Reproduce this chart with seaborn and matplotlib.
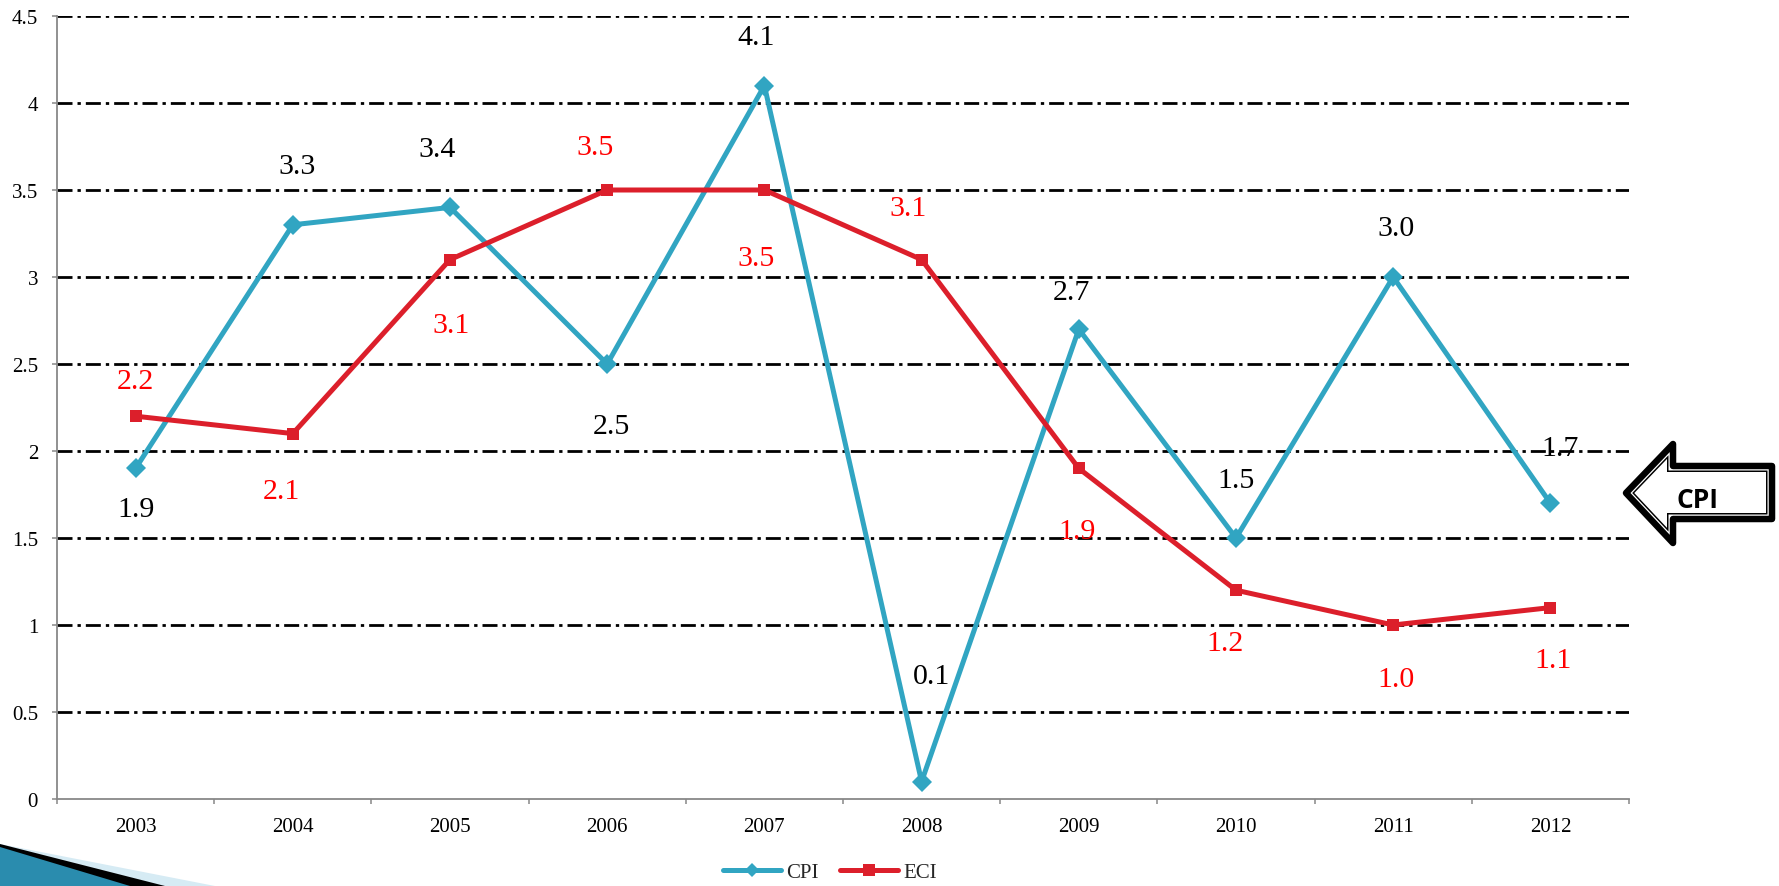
import numpy as np
import matplotlib
matplotlib.use("Agg")
import matplotlib.pyplot as plt
import seaborn as sns
from matplotlib.patches import Polygon
from matplotlib.lines import Line2D
from matplotlib.ticker import FixedLocator, NullFormatter, FixedFormatter

# data
years = ["2003", "2004", "2005", "2006", "2007", "2008", "2009", "2010", "2011", "2012"]
cpi = [1.9, 3.3, 3.4, 2.5, 4.1, 0.1, 2.7, 1.5, 3.0, 1.7]
eci = [2.2, 2.1, 3.1, 3.5, 3.5, 3.1, 1.9, 1.2, 1.0, 1.1]
y_ticks = [0, 0.5, 1, 1.5, 2, 2.5, 3, 3.5, 4, 4.5]
y_tick_labels = ["0", "0.5", "1", "1.5", "2", "2.5", "3", "3.5", "4", "4.5"]

# data label offsets (points, dx / dy) as placed in the original
cpi_offsets = [(0, -29), (3, 42), (-9, 42), (3, -45), (-6, 35), (7, 76), (-5, 27), (0, 42), (2, 35), (7, 40)]
eci_offsets = [(0, 25), (-8, -41), (1, -47), (-9, 31), (-6, -49), (-10, 37), (-1, -45), (-8, -38), (2, -39), (2, -38)]

cpi_color = "#31A5C2"
eci_color = "#DC1F2B"

W, H = 1779, 887
sns.set_theme(style="white")
plt.rcParams["font.family"] = ["Liberation Serif", "DejaVu Serif"]

fig = plt.figure(figsize=(W / 100, H / 100), dpi=100)
ax = fig.add_axes([57 / W, 1 - 800 / H, (1629 - 57) / W, (800 - 17) / H])

pos = np.arange(len(years))
sns.lineplot(x=pos, y=cpi, ax=ax, color=cpi_color, linewidth=3.6, marker="D",
             markersize=10, markeredgewidth=0, legend=False, zorder=3)
sns.lineplot(x=pos, y=eci, ax=ax, color=eci_color, linewidth=3.6, marker="s",
             markersize=8.5, markeredgewidth=0, legend=False, zorder=4)

for p, v, (dx, dy) in zip(pos, cpi, cpi_offsets):
    ax.annotate(f"{v:.1f}", (p, v), xytext=(dx, dy), textcoords="offset points",
                ha="center", va="center", fontsize=21.5, color="black", zorder=5)
for p, v, (dx, dy) in zip(pos, eci, eci_offsets):
    ax.annotate(f"{v:.1f}", (p, v), xytext=(dx, dy), textcoords="offset points",
                ha="center", va="center", fontsize=21.5, color="#FF0000", zorder=5)

# dash-dot gridlines
for t in y_ticks[1:]:
    ax.axhline(t, color="black", linewidth=2, linestyle=(0, (5.4, 1.8, 1.2, 1.8)), zorder=1)

ax.set_xlim(-0.5, len(years) - 0.5)
ax.set_ylim(0, 4.5)
ax.set_xlabel("")
ax.set_ylabel("")

ax.xaxis.set_major_locator(FixedLocator(np.arange(len(years) + 1) - 0.5))
ax.xaxis.set_major_formatter(NullFormatter())
ax.xaxis.set_minor_locator(FixedLocator(pos))
ax.xaxis.set_minor_formatter(FixedFormatter(years))
ax.tick_params(axis="x", which="major", direction="out", length=3.6, width=1.1,
               color="#888888", bottom=True)
ax.tick_params(axis="x", which="minor", length=0, pad=13, labelsize=15, labelcolor="black")

ax.set_yticks(y_ticks)
ax.set_yticklabels(y_tick_labels)
ax.tick_params(axis="y", direction="out", length=3.6, width=1.1, color="#888888",
               left=True, pad=10, labelsize=15, labelcolor="black")

for s in ["top", "right"]:
    ax.spines[s].set_visible(False)
for s in ["left", "bottom"]:
    ax.spines[s].set_color("#888888")
    ax.spines[s].set_linewidth(1.3)

handles = [
    Line2D([], [], color=cpi_color, linewidth=3.6, marker="D", markersize=7, markeredgewidth=0),
    Line2D([], [], color=eci_color, linewidth=3.6, marker="s", markersize=8, markeredgewidth=0),
]
fig.legend(handles, ["CPI", "ECI"], loc="center", bbox_to_anchor=(830 / W, 1 - 873 / H),
           ncol=2, frameon=False, fontsize=15, handlelength=2.8, handletextpad=0.25,
           columnspacing=1.0)


def fig_xy(pts):
    return [(x / W, 1 - y / H) for x, y in pts]


# block arrow callout on the right (outline midline in pixels)
arrow_px = [(1626, 494), (1673, 445), (1673, 467), (1772, 467), (1772, 520), (1673, 520), (1673, 544)]
base = Polygon(fig_xy(arrow_px), closed=True, transform=fig.transFigure,
               facecolor="white", edgecolor="none")
fig.add_artist(base)
for lw_px, col in [(12, "black"), (9, "white")]:
    p = Polygon(fig_xy(arrow_px), closed=True, transform=fig.transFigure, fill=False,
                edgecolor=col, linewidth=lw_px * 0.72, joinstyle="miter")
    p.set_clip_path(base)
    fig.add_artist(p)
fig.add_artist(Polygon(fig_xy(arrow_px), closed=True, transform=fig.transFigure, fill=False,
                       edgecolor="black", linewidth=6.5 * 0.72, joinstyle="round"))
fig.text(1698 / W, 1 - 501 / H, "CPI", ha="center", va="center", fontsize=19,
         family=["Open Sans", "DejaVu Sans"], fontweight="bold", color="black")

# template decoration bottom-left
for pts, col in [
    ([(0, 845), (215, 887), (0, 887)], "#D6EBF4"),
    ([(0, 845), (165, 887), (0, 887)], "black"),
    ([(0, 848), (130, 887), (0, 887)], "#2A8CAE"),
]:
    fig.add_artist(Polygon(fig_xy(pts), closed=True, transform=fig.transFigure,
                           facecolor=col, edgecolor="none"))

fig.savefig("out.png", dpi=100)
